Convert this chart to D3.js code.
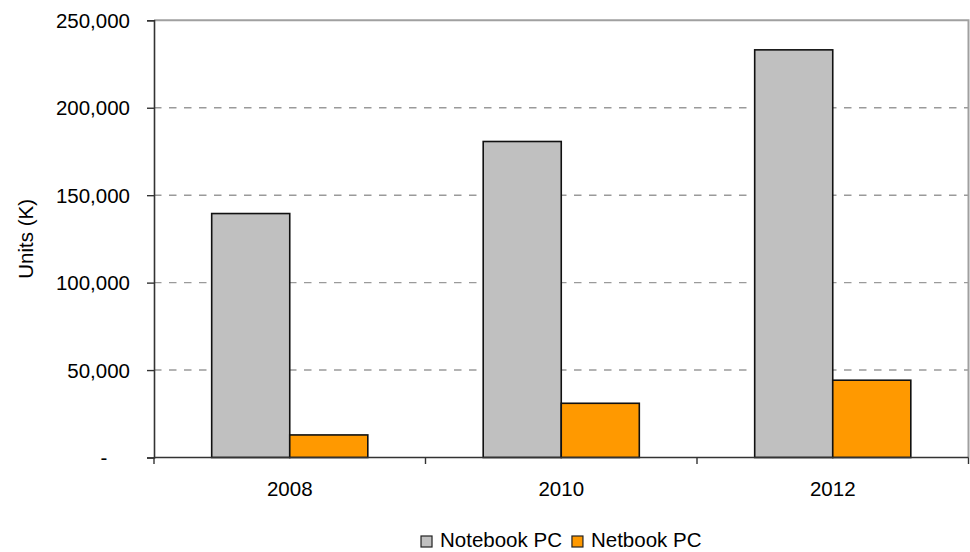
<!DOCTYPE html>
<html>
<head>
<meta charset="utf-8">
<script src="https://cdn.jsdelivr.net/npm/d3@7/dist/d3.min.js"></script>
<style>
  html, body { margin: 0; padding: 0; background: #fff; }
  svg { display: block; font-family: "Liberation Sans", Arial, sans-serif; }
</style>
</head>
<body>
<svg id="chart" width="970" height="552"></svg>
<script>
// Shipments by year, thousands of units
const years = ["2008", "2010", "2012"];
const seriesNames = ["Notebook PC", "Netbook PC"];
const notebookUnits = [139500, 180700, 233100];
const netbookUnits = [12900, 31000, 44200];
const yTicks = [0, 50000, 100000, 150000, 200000, 250000];
const seriesColors = ["#c0c0c0", "#ff9900"];

const seriesValues = [notebookUnits, netbookUnits];
const rows = years.map((yr, i) => ({
  year: yr,
  values: seriesNames.map((name, s) => ({ name, value: seriesValues[s][i], color: seriesColors[s] }))
}));

const fontSize = 20.5;
const svg = d3.select("#chart");
const plot = { left: 154, right: 968.5, top: 20.3, bottom: 457.5 };

const x0 = d3.scaleBand().domain(years).range([plot.left, plot.right]).padding(0);
const bw = x0.bandwidth();
const groupW = bw * 0.575;
const x1 = d3.scaleBand().domain(seriesNames).range([(bw - groupW) / 2, (bw + groupW) / 2]).padding(0);
const y = d3.scaleLinear().domain([0, 250000]).range([plot.bottom, plot.top]);

// dashed horizontal gridlines
svg.append("g")
  .selectAll("line")
  .data(yTicks.filter(t => t > 0 && t < 250000))
  .join("line")
  .attr("x1", plot.left).attr("x2", plot.right)
  .attr("y1", d => y(d)).attr("y2", d => y(d))
  .attr("stroke", "#9a9a9a").attr("stroke-width", 1.4)
  .attr("stroke-dasharray", "7.5,7.5");

// plot frame: top and right edges
svg.append("path")
  .attr("d", `M${plot.left},${y(250000)}H${plot.right}V${plot.bottom}`)
  .attr("fill", "none").attr("stroke", "#a0a0a0").attr("stroke-width", 2);

// bars
const groups = svg.append("g")
  .selectAll("g")
  .data(rows)
  .join("g")
  .attr("transform", d => `translate(${x0(d.year)},0)`);

groups.selectAll("rect")
  .data(d => d.values)
  .join("rect")
  .attr("x", d => x1(d.name))
  .attr("width", x1.bandwidth())
  .attr("y", d => y(d.value))
  .attr("height", d => y(0) - y(d.value))
  .attr("fill", d => d.color)
  .attr("stroke", "#111").attr("stroke-width", 1.6);

// y axis
const digitW = fontSize * 0.556;
const yAxis = d3.axisLeft(y)
  .tickValues(yTicks)
  .tickSize(7)
  .tickPadding(17)
  .tickFormat(d => d === 0 ? "-" : d3.format(",")(d));

const gy = svg.append("g")
  .attr("transform", `translate(${plot.left},0)`)
  .call(yAxis);
gy.select(".domain").attr("stroke", "#333").attr("stroke-width", 1.6);
gy.selectAll(".tick line").attr("stroke", "#333").attr("stroke-width", 1.4);
gy.selectAll(".tick text")
  .attr("font-size", fontSize)
  .attr("font-family", "'Liberation Sans', Arial, sans-serif")
  .attr("fill", "#000")
  .attr("dy", "0.34em")
  .attr("dx", d => d === 0 ? -2 * digitW : 0);

// x axis with ticks on category boundaries
const gx = svg.append("g")
  .attr("transform", `translate(0,${plot.bottom})`);
gx.append("line")
  .attr("x1", plot.left).attr("x2", plot.right)
  .attr("stroke", "#333").attr("stroke-width", 1.6);
const boundaries = years.map(d => x0(d)).concat([x0(years[years.length - 1]) + bw]);
gx.selectAll(".bt")
  .data(boundaries)
  .join("line")
  .attr("class", "bt")
  .attr("x1", d => d).attr("x2", d => d)
  .attr("y1", 0).attr("y2", 6.5)
  .attr("stroke", "#333").attr("stroke-width", 1.4);
gx.selectAll("text")
  .data(years)
  .join("text")
  .attr("x", d => x0(d) + bw / 2)
  .attr("y", 38.5)
  .attr("text-anchor", "middle")
  .attr("font-size", fontSize)
  .attr("fill", "#000")
  .text(d => d);

// y axis title
svg.append("text")
  .attr("transform", `translate(33,${(plot.top + plot.bottom) / 2}) rotate(-90)`)
  .attr("text-anchor", "middle")
  .attr("font-size", fontSize)
  .attr("fill", "#000")
  .text("Units (K)");

// legend
const legend = svg.append("g");
const items = legend.selectAll("g")
  .data(seriesNames.map((n, i) => ({ name: n, color: seriesColors[i] })))
  .join("g");
items.append("rect")
  .attr("width", 11).attr("height", 11)
  .attr("y", -11)
  .attr("fill", d => d.color)
  .attr("stroke", "#222").attr("stroke-width", 1.2);
items.append("text")
  .attr("x", 19)
  .attr("font-size", fontSize)
  .attr("fill", "#000")
  .text(d => d.name);

let cursor = 0;
const widths = [];
items.each(function () {
  const w = 19 + d3.select(this).select("text").node().getComputedTextLength();
  widths.push(w);
});
const gap = 10;
const total = d3.sum(widths) + gap * (widths.length - 1);
const startX = (plot.left + plot.right) / 2 - total / 2;
items.attr("transform", (d, i) => {
  const tx = startX + cursor;
  cursor += widths[i] + gap;
  return `translate(${tx},547)`;
});
</script>
</body>
</html>
